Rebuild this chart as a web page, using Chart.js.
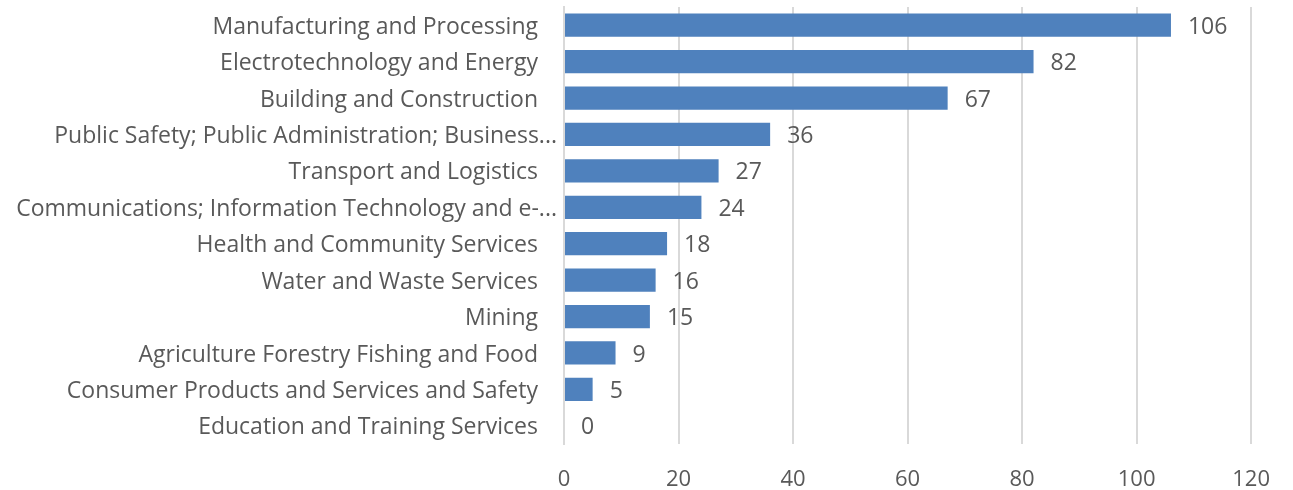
<!DOCTYPE html>
<html><head><meta charset="utf-8">
<script src="https://cdn.jsdelivr.net/npm/chart.js@4"></script>
<style>html,body{margin:0;padding:0;background:#fff}#wrap{width:1293px;height:490px}</style>
</head><body><div id="wrap"><canvas id="c"></canvas></div>
<script>
const categories = [
  "Manufacturing and Processing",
  "Electrotechnology and Energy",
  "Building and Construction",
  "Public Safety; Public Administration; Business...",
  "Transport and Logistics",
  "Communications; Information Technology and e-...",
  "Health and Community Services",
  "Water and Waste Services",
  "Mining",
  "Agriculture Forestry Fishing and Food",
  "Consumer Products and Services and Safety",
  "Education and Training Services"
];
const values = [106, 82, 67, 36, 27, 24, 18, 16, 15, 9, 5, 0];
const xTicks = [0, 20, 40, 60, 80, 100, 120];

const FONT = "'Open Sans', sans-serif";
const TXT = "#595959";

const textPlugin = {
  id: 'textPlugin',
  afterDatasetsDraw(chart) {
    const ctx = chart.ctx;
    const meta = chart.getDatasetMeta(0);
    const yScale = chart.scales.y;
    ctx.save();
    ctx.fillStyle = TXT;
    ctx.textBaseline = 'middle';
    // value labels
    ctx.font = "23px " + FONT;
    ctx.textAlign = 'left';
    meta.data.forEach((bar, i) => {
      ctx.fillText(String(values[i]), bar.x + 17, bar.y + 2);
    });
    // category labels (truncated ones sit further right, as in the source)
    ctx.textAlign = 'right';
    categories.forEach((lab, i) => {
      const y = yScale.getPixelForTick(i) + 2;
      const xr = lab.endsWith('...') ? yScale.right - 7 : yScale.right - 26;
      ctx.fillText(lab, xr, y);
    });
    ctx.restore();
  }
};

new Chart(document.getElementById('c'), {
  type: 'bar',
  data: {
    labels: categories,
    datasets: [{
      data: values,
      backgroundColor: '#4F81BD',
      borderWidth: 0,
      categoryPercentage: 1,
      barPercentage: 0.64
    }]
  },
  options: {
    indexAxis: 'y',
    responsive: true,
    maintainAspectRatio: false,
    animation: false,
    layout: { padding: { top: 7, right: 40, bottom: 0, left: 0 } },
    plugins: { legend: { display: false }, tooltip: { enabled: false } },
    scales: {
      x: {
        min: 0, max: 120,
        afterBuildTicks(s) { s.ticks = xTicks.map(v => ({ value: v })); },
        afterFit(s) { s.height = 46; },
        grid: { color: '#d9d9d9', lineWidth: 2, drawTicks: false },
        border: { display: false },
        ticks: { color: TXT, font: { family: FONT, size: 22 }, padding: 23 }
      },
      y: {
        afterFit(s) { s.width = 564; s.paddingTop = 0; s.paddingBottom = 0; },
        grid: { display: false, drawTicks: false },
        border: { display: true, color: '#d9d9d9', width: 2 },
        ticks: { display: false }
      }
    }
  },
  plugins: [textPlugin]
});
</script></body></html>
